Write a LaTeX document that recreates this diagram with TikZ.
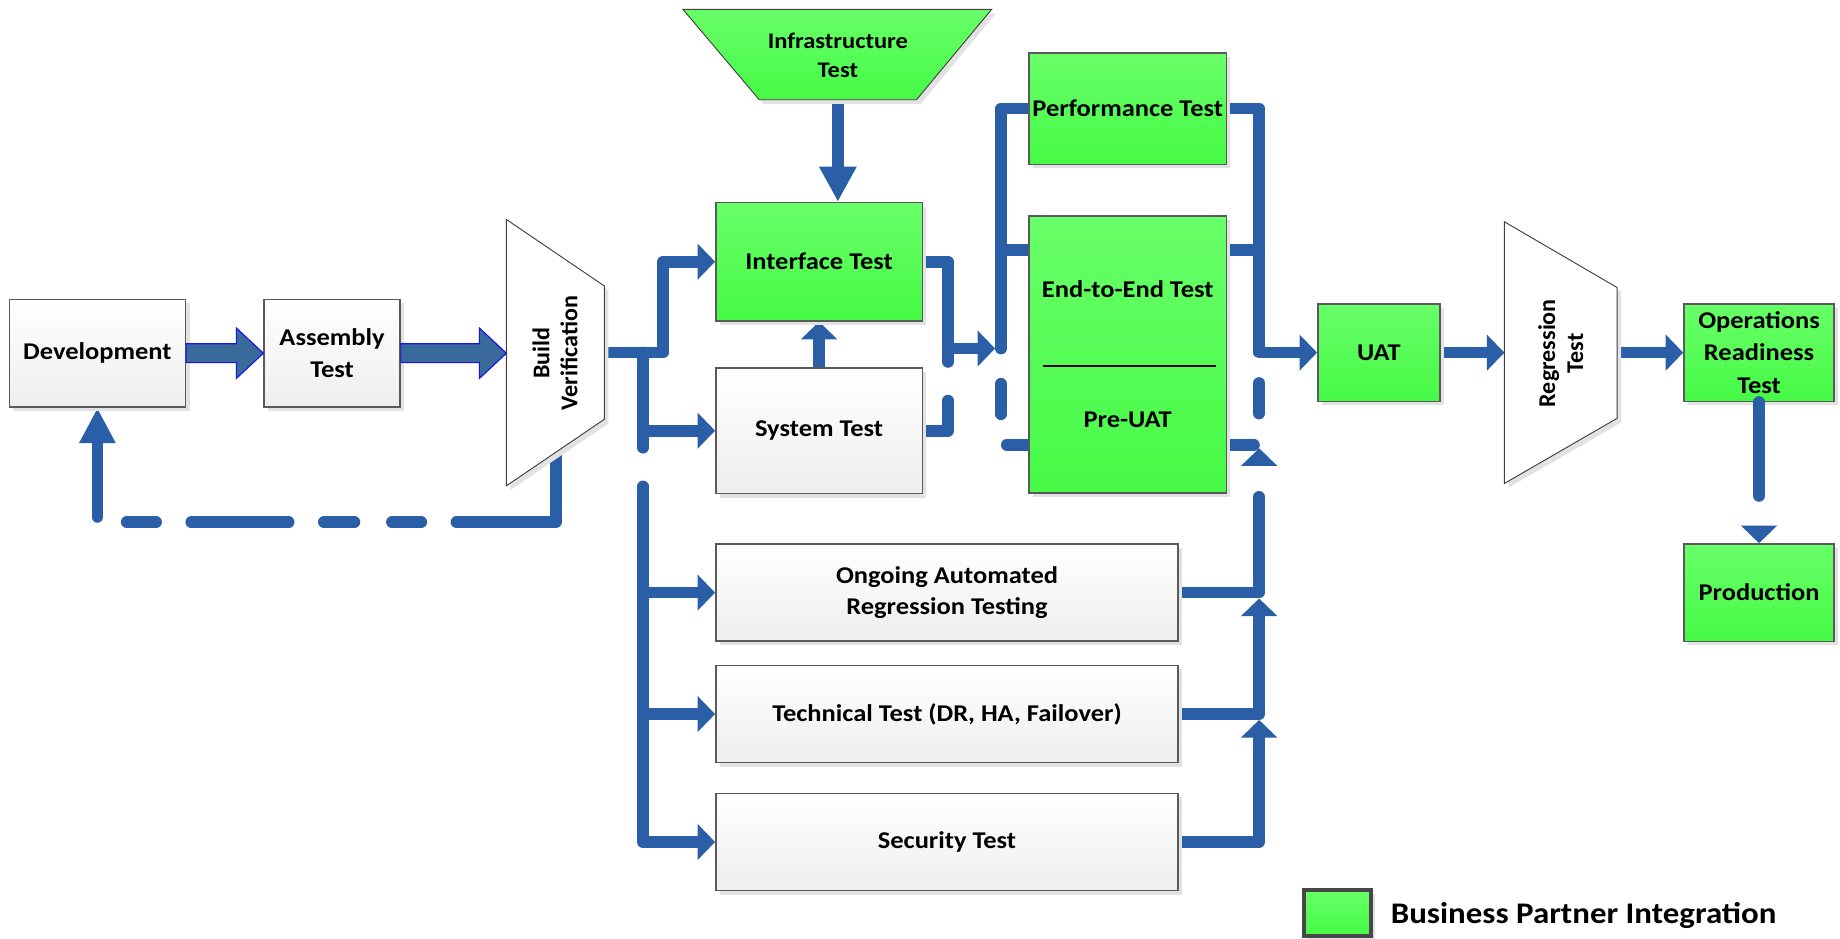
\documentclass[tikz,border=0pt]{standalone}
\usepackage{fontspec}
\setmainfont{Carlito}[FakeStretch=1.1]
\newfontfamily\rotfont{Carlito}
\usetikzlibrary{arrows.meta,shadows,calc}
\definecolor{lnblue}{RGB}{42,94,166}
\definecolor{gtop}{RGB}{104,255,104}
\definecolor{gbot}{RGB}{70,250,70}
\definecolor{graybot}{RGB}{238,238,238}
\definecolor{bord}{RGB}{90,90,90}
\definecolor{shd}{RGB}{226,226,226}
\definecolor{barfill}{RGB}{58,106,155}
\definecolor{barline}{RGB}{20,20,235}
\pgfdeclarelayer{back}
\pgfdeclarelayer{bg}
\pgfsetlayers{back,bg,main}
\tikzset{
  boxtext/.style={font=\bfseries\fontsize{20.5}{27}\selectfont, align=center},
  shade3/.style={drop shadow={shadow xshift=3.5pt, shadow yshift=-3.5pt, fill=shd, opacity=1}},
  graybox/.style={boxtext, draw=bord, line width=1.2pt, top color=white, bottom color=graybot, shade3, inner sep=0pt},
  greenbox/.style={boxtext, draw=bord, line width=1.2pt, top color=gtop, bottom color=gbot, shade3, inner sep=0pt},
  trap/.style={draw=black!75, line width=0.8pt, fill=white, shade3},
  greentrap/.style={draw=black!75, line width=0.8pt, top color=gtop, bottom color=gbot, shade3},
  rottext/.style={rotate=90, font=\rotfont\bfseries\fontsize{20.5}{24}\selectfont, align=center},
  conn/.style={draw=lnblue, line width=10pt, line cap=round, line join=round},
  tip/.style={-{Triangle[length=15pt,width=30pt]}},
  longtip/.style={-{Triangle[length=30pt,width=30pt]}},
  blockarr/.style={fill=barfill, draw=barline, line width=1pt}
}
\begin{document}
\begin{tikzpicture}[x=1pt,y=-1pt]
\begin{pgfonlayer}{back}
\fill[white] (0,0) rectangle (1568,800);
\end{pgfonlayer}
\useasboundingbox (0,0) rectangle (1568,800);

% ---------- nodes ----------
\node[graybox, minimum width=150pt, minimum height=92pt] (dev) at (83,301) {Development};
\node[graybox, minimum width=116pt, minimum height=92pt] (asm) at (283,301) {Assembly\\Test};

\draw[trap] (431.5,187) -- (515,243.7) -- (515,357.3) -- (431.5,414) -- cycle;
\node[rottext] (bv) at (473,301) {Build\\Verification};

\draw[greentrap] (582,8) -- (845,8) -- (781,85) -- (647,85) -- cycle;
\node[font=\bfseries\fontsize{19}{25}\selectfont, align=center] (infra) at (714,47) {Infrastructure\\Test};

\node[greenbox, minimum width=176pt, minimum height=101pt] (iface) at (698,223) {Interface Test};
\node[graybox, minimum width=176pt, minimum height=107pt] (sys) at (698,367) {System Test};

\node[greenbox, minimum width=168pt, minimum height=95pt] (perf) at (961,92.5) {Performance Test};
\node[greenbox, minimum width=168pt, minimum height=236pt] (e2e) at (961,302) {};
\node[boxtext] (e2etxt) at (961,246.6) {End-to-End Test};
\coordinate (ruleL) at (889,312);
\coordinate (ruleR) at (1036,312);
\draw[line width=2pt, black] (ruleL) -- (ruleR);
\node[boxtext] (preuat) at (961,358) {Pre-UAT};

\node[graybox, minimum width=394pt, minimum height=82.5pt] (ong) at (807,505) {Ongoing Automated\\Regression Testing};
\node[graybox, minimum width=394pt, minimum height=83pt] (tech) at (807,608.5) {Technical Test (DR, HA, Failover)};
\node[graybox, minimum width=394pt, minimum height=83pt] (sec) at (807,717.5) {Security Test};

\node[greenbox, minimum width=104pt, minimum height=83pt] (uat) at (1175,300.5) {UAT};

\draw[trap] (1282,189) -- (1378,245) -- (1378,356.5) -- (1282,412) -- cycle;
\node[rottext] (reg) at (1330,301) {Regression\\Test};

\node[greenbox, minimum width=128pt, minimum height=83pt, font=\bfseries\fontsize{20.5}{27.5}\selectfont] (ops) at (1499,300.5) {Operations\\Readiness\\Test};
\node[greenbox, minimum width=128pt, minimum height=83pt] (prod) at (1499,505) {Production};

\node[greenbox, draw=black!72, line width=3.5pt, minimum width=57pt, minimum height=39pt] (leg) at (1140,778) {};
\node[anchor=west, font=\bfseries\fontsize{25.5}{30}\selectfont, inner sep=0pt] (legtxt) at (1185,780) {Business Partner Integration};

% ---------- block arrows ----------
\draw[blockarr] ($(dev.east)+(0,-8)$) -- ($(asm.west)+(-23,-8)$) -- ($(asm.west)+(-23,-21.5)$) -- (asm.west) -- ($(asm.west)+(-23,21.5)$) -- ($(asm.west)+(-23,8)$) -- ($(dev.east)+(0,8)$) -- cycle;
\coordinate (bvW) at (431.5,301);
\draw[blockarr] ($(asm.east)+(0,-8)$) -- ($(bvW)+(-23,-8)$) -- ($(bvW)+(-23,-21.5)$) -- (bvW) -- ($(bvW)+(-23,21.5)$) -- ($(bvW)+(-23,8)$) -- ($(asm.east)+(0,8)$) -- cycle;

% ---------- connectors ----------
\coordinate (bvE) at (515,300.5);
\coordinate (jL) at (548,300.5);
\coordinate (jIF) at (565,300.5);
\coordinate (infB) at (714,85);
\coordinate (jI) at (808,297);
\coordinate (cArr) at (848,297);
\coordinate (busBot) at (853,297);
\coordinate (jE) at (853,213);
\coordinate (jR) at (1073,300.5);
\coordinate (tipO) at (1073,382);
\coordinate (tipT) at (1073,510);
\coordinate (tipS) at (1073,613.5);
\coordinate (regW) at (1282,300.5);
\coordinate (regE) at (1378,300.5);
\coordinate (bvB) at (473.5,382);
\coordinate (fb1) at (473.5,445);
\coordinate (fb2) at (83,445);
\path (e2e.west) ++(0,77) coordinate (preL);
\path (e2e.east) ++(0,77) coordinate (preR);

\begin{pgfonlayer}{bg}
\draw[conn,tip] (bvE) -- (jIF) |- (iface.west);
\draw[conn,tip] (jL) |- (sys.west);
\draw[conn,tip,dash pattern=on 81pt off 33pt on 500pt off 10pt] (jL) |- (sec.west);
\draw[conn,tip] (jL |- ong.west) -- (ong.west);
\draw[conn,tip] (jL |- tech.west) -- (tech.west);
\draw[conn,longtip] (infB) -- (infB |- iface.north);
\draw[conn,tip] (sys.north) -- (iface.south);
\draw[conn,tip] (iface.east) -| (jI) -- (cArr);
\draw[conn] (perf.west) -| (busBot);
\draw[conn] (jE) -- (jE -| e2e.west);
\draw[conn,dash pattern=on 47pt off 33pt] (sys.east) -| (jI);
\draw[conn,dash pattern=on 26pt off 31pt,dash phase=27pt] (busBot) |- (preL);
\draw[conn,tip] (perf.east) -| (jR) -- (uat.west);
\draw[conn] (jE -| e2e.east) -- (jE -| jR);
\draw[conn,dash pattern=on 26pt off 31pt,dash phase=3pt] (preR) -| (jR);
\draw[conn,tip,dash pattern=on 150pt off 100pt] (ong.east) -| (tipO);
\draw[conn,tip] (tech.east) -| (tipT);
\draw[conn,tip] (sec.east) -| (tipS);
\draw[conn,tip] (uat.east) -- (regW);
\draw[conn,tip] (regE) -- (ops.west);
\draw[conn,-{Triangle[length=30pt,width=29pt]},dash pattern=on 147.5pt off 30pt on 25pt off 32pt on 26pt off 30pt on 83pt off 30pt on 25pt off 29.5pt on 80pt off 10pt] (bvB) -- (fb1) -- (fb2) -- (dev.south);
\end{pgfonlayer}
\draw[conn,tip,dash pattern=on 80pt off 100pt] (ops.south) -- (prod.north);
\end{tikzpicture}
\end{document}
